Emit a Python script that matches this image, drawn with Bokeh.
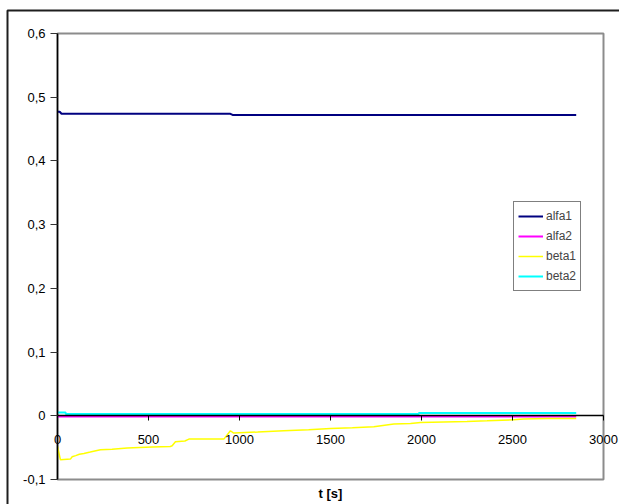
from bokeh.plotting import figure
from bokeh.models import (FixedTicker, Legend, LegendItem, Range1d, Label,
                          BoxAnnotation)
from bokeh.embed import file_html
from bokeh.resources import INLINE

# Time axis (seconds) and the four recorded angles
alfa1_t = [0, 12, 22, 950, 962, 2850]
alfa1 = [0.4772, 0.4772, 0.4740, 0.4740, 0.4722, 0.4722]

alfa2_t = [0, 2850]
alfa2 = [-0.0011, -0.0011]

beta1_t = [0, 16, 71, 80, 100, 120, 145, 180, 236, 300, 383, 450, 520, 620, 630,
           648, 700, 722, 914, 950, 968, 1100, 1243, 1380, 1500, 1620, 1738,
           1848, 1940, 1995, 2122, 2250, 2360, 2507, 2561, 2690, 2850]
beta1 = [-0.0482, -0.0690, -0.0680, -0.0644, -0.0625, -0.0605, -0.0592, -0.0570,
         -0.0534, -0.0525, -0.0507, -0.0498, -0.0490, -0.0482, -0.0470,
         -0.0408, -0.0395, -0.0366, -0.0366, -0.0235, -0.0272, -0.0255, -0.0235,
         -0.0220, -0.0200, -0.0188, -0.0173,
         -0.0130, -0.0121, -0.0105, -0.0097, -0.0088, -0.0078, -0.0063, -0.0052,
         -0.0042, -0.0042]

beta2_t = [0, 44, 46, 1984, 1986, 2850]
beta2 = [0.0050, 0.0050, 0.0027, 0.0027, 0.0043, 0.0043]

x_ticks = [0, 500, 1000, 1500, 2000, 2500, 3000]
y_ticks = [-0.1, 0.0, 0.1, 0.2, 0.3, 0.4, 0.5, 0.6]
y_labels = ["-0,1", "0", "0,1", "0,2", "0,3", "0,4", "0,5", "0,6"]
x_title = "t [s]"

X_MIN, X_MAX = 0, 3000
Y_MIN, Y_MAX = -0.1, 0.6

FONT = "Liberation Sans"

# Page and plot-area geometry in pixels; the frame covers the whole page and
# both axes are pinned inside it, so the ranges are widened accordingly.
W, H = 619, 504
PA_L, PA_R, PA_T, PA_B = 57, 603, 33, 479
kx = (X_MAX - X_MIN) / (PA_R - PA_L)
ky = (Y_MAX - Y_MIN) / (PA_B - PA_T)
x_range = Range1d(X_MIN - PA_L * kx, X_MAX + (W - PA_R) * kx)
y_range = Range1d(Y_MIN - (H - PA_B) * ky, Y_MAX + PA_T * ky)

p = figure(width=W, height=H, output_backend="svg", toolbar_location=None,
           x_range=x_range, y_range=y_range,
           min_border_left=0, min_border_right=0, min_border_top=0,
           min_border_bottom=0)

p.background_fill_color = "white"
p.border_fill_color = "white"
p.outline_line_color = None
p.xgrid.visible = False
p.ygrid.visible = False

# chart-area border (its right and bottom edges lie beyond the page)
p.add_layout(BoxAnnotation(left=7, right=900, top=10, bottom=900,
                           left_units="canvas", right_units="canvas",
                           top_units="canvas", bottom_units="canvas",
                           fill_alpha=0, line_color="#1e1e1e", line_alpha=1,
                           line_width=2, level="overlay"))

# plot-area border
p.add_layout(BoxAnnotation(left=X_MIN, right=X_MAX, bottom=Y_MIN, top=Y_MAX,
                           fill_alpha=0, line_color="#8c8c8c", line_alpha=1,
                           line_width=2, level="underlay"))

# y axis at t = 0, Excel-style decimal comma labels
ya = p.yaxis[0]
ya.fixed_location = X_MIN
ya.bounds = (Y_MIN, Y_MAX)
ya.ticker = FixedTicker(ticks=y_ticks)
ya.major_label_overrides = {t: s for t, s in zip(y_ticks, y_labels)}
ya.axis_line_color = "black"
ya.axis_line_width = 1.5
ya.major_tick_line_color = "#333333"
ya.major_tick_in = 0
ya.major_tick_out = 7
ya.minor_tick_line_color = None
ya.major_label_standoff = 5
ya.major_label_text_font = FONT
ya.major_label_text_font_size = "13px"
ya.major_label_text_color = "black"

# x axis crossing at y = 0
xa = p.xaxis[0]
xa.fixed_location = 0
xa.bounds = (X_MIN, X_MAX)
xa.ticker = FixedTicker(ticks=x_ticks)
xa.axis_line_color = "black"
xa.axis_line_width = 1.5
xa.major_tick_line_color = "black"
xa.major_tick_in = 0
xa.major_tick_out = 5
xa.minor_tick_line_color = None
xa.major_label_standoff = 14
xa.major_label_text_font = FONT
xa.major_label_text_font_size = "13px"
xa.major_label_text_color = "black"

# axis title under the plot area
p.add_layout(Label(x=(X_MIN + X_MAX) / 2, y=Y_MIN, text=x_title,
                   text_align="center", text_baseline="middle", y_offset=-14,
                   text_font=FONT, text_font_size="13px",
                   text_font_style="bold", text_color="black"))

r1 = p.line(alfa1_t, alfa1, line_color="#000080", line_width=2)
r2 = p.line(alfa2_t, alfa2, line_color="#ff00ff", line_width=2)
r3 = p.line(beta1_t, beta1, line_color="#ffff00", line_width=1.5)
r4 = p.line(beta2_t, beta2, line_color="#00ffff", line_width=2)

legend = Legend(items=[LegendItem(label="alfa1", renderers=[r1]),
                       LegendItem(label="alfa2", renderers=[r2]),
                       LegendItem(label="beta1", renderers=[r3]),
                       LegendItem(label="beta2", renderers=[r4])],
                location=(513, 213), orientation="vertical",
                label_text_font=FONT, label_text_font_size="12px",
                label_height=20, glyph_height=20, glyph_width=25,
                label_standoff=3, spacing=0, padding=4, margin=0,
                border_line_color="black", border_line_width=1,
                background_fill_color="white", background_fill_alpha=1)
p.add_layout(legend)

open("out.html", "w").write(file_html(p, INLINE))
